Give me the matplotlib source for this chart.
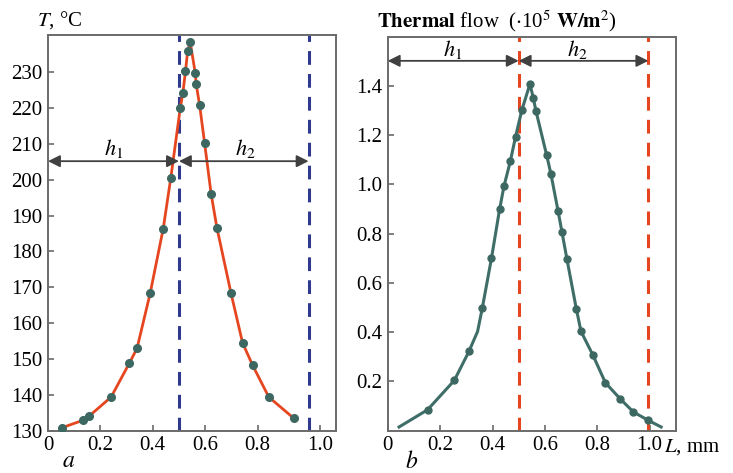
import matplotlib.pyplot as plt

# panel a: temperature
t_x = [0.052, 0.133, 0.156, 0.241, 0.311, 0.340, 0.390, 0.440, 0.469, 0.505,
       0.515, 0.525, 0.533, 0.543, 0.562, 0.566, 0.579, 0.598, 0.623, 0.645,
       0.699, 0.743, 0.781, 0.843, 0.938]
t_y = [130.8, 132.9, 134.0, 139.4, 148.9, 153.0, 168.3, 186.4, 200.6, 220.0,
       224.2, 230.3, 235.8, 238.4, 229.9, 226.6, 220.8, 210.2, 196.0, 186.6,
       168.3, 154.5, 148.3, 139.4, 133.5]

# panel b: thermal flow (curve, then measured points)
q_line_x = [0.043, 0.152, 0.254, 0.310, 0.343, 0.361, 0.396, 0.427, 0.444, 0.468,
            0.488, 0.512, 0.543, 0.556, 0.566, 0.607, 0.623, 0.650, 0.665, 0.684,
            0.720, 0.738, 0.783, 0.831, 0.887, 0.938, 0.995, 1.044]
q_line_y = [0.015, 0.085, 0.204, 0.322, 0.403, 0.498, 0.700, 0.899, 0.994, 1.094,
            1.194, 1.302, 1.408, 1.350, 1.298, 1.118, 1.043, 0.894, 0.808, 0.698,
            0.495, 0.403, 0.308, 0.195, 0.130, 0.076, 0.042, 0.015]
q_pts_x = [0.152, 0.254, 0.310, 0.361, 0.396, 0.427, 0.444, 0.468, 0.488, 0.512,
           0.543, 0.556, 0.566, 0.607, 0.623, 0.650, 0.665, 0.684, 0.720, 0.738,
           0.783, 0.831, 0.887, 0.938, 0.995]
q_pts_y = [0.085, 0.204, 0.322, 0.498, 0.700, 0.899, 0.994, 1.094, 1.194, 1.302,
           1.408, 1.350, 1.298, 1.118, 1.043, 0.894, 0.808, 0.698, 0.495, 0.403,
           0.308, 0.195, 0.130, 0.076, 0.042]

bounds = [0.5, 0.995]
left_xticks = [0, 0.2, 0.4, 0.6, 0.8, 1.04]
right_xticks = [0, 0.2, 0.4, 0.6, 0.8, 1.0]
xtick_labels = ["0", "0.2", "0.4", "0.6", "0.8", "1.0"]
t_ticks = [130, 140, 150, 160, 170, 180, 190, 200, 210, 220, 230]
q_ticks = [0.2, 0.4, 0.6, 0.8, 1.0, 1.2, 1.4]

plt.rcParams["font.family"] = ["Liberation Serif", "DejaVu Serif"]
plt.rcParams["mathtext.fontset"] = "stix"

RED = "#e5461f"
NAVY = "#2f3a8f"
TEAL = "#3f6e69"
DOT = "#3d6862"
ARROW = "#404040"
SPINE = "#6a6a6a"

fig = plt.figure(figsize=(7.33, 4.73), dpi=100)
ax1 = fig.add_axes([0.0655, 0.0894, 0.393, 0.8366])
ax2 = fig.add_axes([0.529, 0.0894, 0.393, 0.833])

for ax in (ax1, ax2):
    for s in ax.spines.values():
        s.set_color(SPINE)
        s.set_linewidth(1.4)
    ax.tick_params(direction="in", length=4, width=1.2, color=SPINE,
                   labelsize=15, pad=4)
    ax.set_xlim(0, 1.10)

# --- panel a
ax1.plot(t_x, t_y, color=RED, lw=2, zorder=3)
ax1.plot(t_x, t_y, "o", ms=5.5, color=DOT, zorder=4)
for b in bounds:
    ax1.axvline(b, color=NAVY, lw=2.2, ls=(0, (4.5, 3)), zorder=2)
ax1.set_ylim(130, 240.4)
ax1.set_yticks(t_ticks)
ax1.set_xticks(left_xticks)
ax1.set_xticklabels(xtick_labels)
arrow_kw = dict(arrowstyle="<|-|>", color=ARROW, lw=1.3, mutation_scale=18,
                shrinkA=0, shrinkB=0)
ax1.annotate("", xy=(0, 205.2), xytext=(bounds[0], 205.2), arrowprops=arrow_kw)
ax1.annotate("", xy=(bounds[0], 205.2), xytext=(bounds[1], 205.2), arrowprops=arrow_kw)
ax1.text(0.25, 208.7, "$h_1$", ha="center", va="center", fontsize=16)
ax1.text(0.753, 208.7, "$h_2$", ha="center", va="center", fontsize=16)
fig.text(37 / 733, 1 - 20 / 473, "$T$, °C", ha="left", va="center", fontsize=15)
fig.text(69 / 733, 1 - 461 / 473, "$a$", ha="center", va="center", fontsize=17)

# --- panel b
ax2.plot(q_line_x, q_line_y, color=TEAL, lw=2.2, zorder=3)
ax2.plot(q_pts_x, q_pts_y, "o", ms=5, color=DOT, zorder=4)
for b in bounds:
    ax2.axvline(b, color=RED, lw=2.2, ls=(0, (4.5, 3)), zorder=2)
ax2.set_ylim(0, 1.6)
ax2.set_yticks(q_ticks)
ax2.set_xticks(right_xticks)
ax2.set_xticklabels(xtick_labels)
ax2.annotate("", xy=(0, 1.502), xytext=(bounds[0], 1.502), arrowprops=arrow_kw)
ax2.annotate("", xy=(bounds[0], 1.502), xytext=(bounds[1], 1.502), arrowprops=arrow_kw)
ax2.text(0.246, 1.548, "$h_1$", ha="center", va="center", fontsize=16)
ax2.text(0.724, 1.548, "$h_2$", ha="center", va="center", fontsize=16)
fig.text(377 / 733, 1 - 21 / 473,
         r"$\mathbf{Thermal}$ flow  ($\cdot$10$^5$ $\mathbf{W/m}^2$)",
         ha="left", va="center", fontsize=15)
fig.text(664 / 733, 1 - 447 / 473, "$L$, mm", ha="left", va="center", fontsize=15)
fig.text(412 / 733, 1 - 462 / 473, "$b$", ha="center", va="center", fontsize=17)

fig.savefig("out.png", dpi=100)
